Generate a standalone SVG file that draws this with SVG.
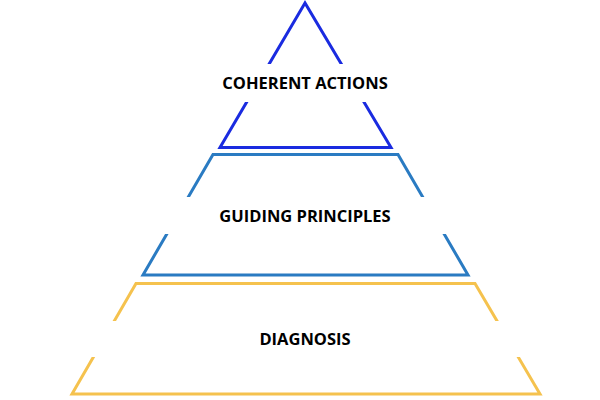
<svg xmlns="http://www.w3.org/2000/svg" width="600" height="400" viewBox="0 0 600 400">
<style>
.lvl{fill:#ffffff;stroke-width:3;stroke-linejoin:miter}
.gap{fill:#ffffff;stroke:none}
.lbl{font-family:"Open Sans","Noto Sans","Liberation Sans",sans-serif;font-weight:bold;font-size:16.5px;fill:#000000;text-anchor:middle}
</style>
<rect width="600" height="400" fill="#ffffff"/>
<g id="top">
<polygon class="lvl" stroke="#1a2be0" points="305,3 220,147.5 391,147.5"/>
<rect class="gap" x="200" y="64" width="210" height="38"/>
<text class="lbl" x="305" y="89">COHERENT ACTIONS</text>
</g>
<g id="middle">
<polygon class="lvl" stroke="#2a7bc2" points="213,154.5 398,154.5 468,275 143,275"/>
<rect class="gap" x="130" y="197" width="350" height="37"/>
<text class="lbl" x="305" y="222">GUIDING PRINCIPLES</text>
</g>
<g id="bottom">
<polygon class="lvl" stroke="#f5c24e" points="136,283.5 475,283.5 540,394 72,394"/>
<rect class="gap" x="60" y="321" width="490" height="36"/>
<text class="lbl" x="305" y="345">DIAGNOSIS</text>
</g>
<g id="connectors"></g>
</svg>
